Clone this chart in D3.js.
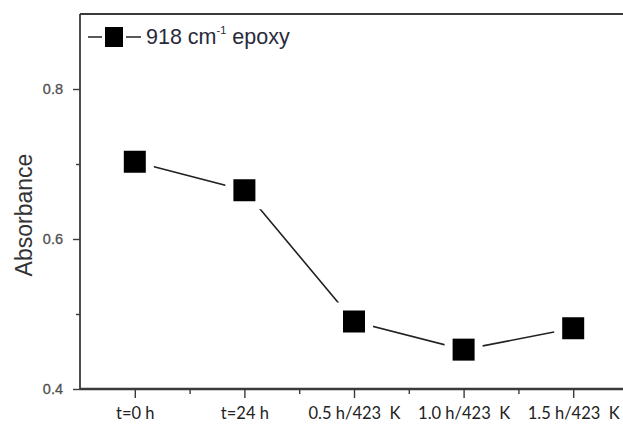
<!DOCTYPE html>
<html>
<head>
<meta charset="utf-8">
<script src="https://cdn.jsdelivr.net/npm/d3@7/dist/d3.min.js"></script>
<style>
  html, body { margin: 0; padding: 0; background: #fff; }
  svg { display: block; }
</style>
</head>
<body>
<svg id="chart" width="623" height="433"></svg>
<script>
// Sample conditions along the x axis
const categories = ["t=0 h", "t=24 h", "0.5 h/423  K", "1.0 h/423  K", "1.5 h/423  K"];
// Absorbance of the 918 cm-1 epoxy band
const absorbance = [0.703, 0.665, 0.490, 0.4525, 0.481];
// Y axis ticks
const yMajorTicks = [0.4, 0.6, 0.8];
const yMinorTicks = [0.5, 0.7];
const seriesName = "918 cm";

(function () {
const svg = d3.select("#chart");
const W = 623;
const mLeft = 80, mTop = 14, mBottom = 389;
const step = 109.6;

// index scale: plot starts half a step before the first category
const x = d3.scaleLinear().domain([-0.5, 4.5]).range([mLeft, mLeft + step * 5]);
const y = d3.scaleLinear().domain([0.4, 0.9]).range([mBottom, mTop]);

const axisColor = "#3a3a3a";

// frame: top border
svg.append("line")
  .attr("x1", mLeft).attr("x2", W).attr("y1", mTop).attr("y2", mTop)
  .attr("stroke", axisColor).attr("stroke-width", 2.2);

// y axis
const yAxis = d3.axisLeft(y).tickValues(yMajorTicks).tickSize(7).tickPadding(10)
  .tickFormat(d3.format(".1f"));
const gy = svg.append("g").attr("transform", `translate(${mLeft},0)`).call(yAxis);
gy.select(".domain").attr("stroke", axisColor).attr("stroke-width", 1.8)
  .attr("d", `M0,${mTop}V${mBottom}`);
gy.selectAll(".tick line").attr("stroke", axisColor).attr("stroke-width", 1.4);
gy.selectAll(".tick text")
  .attr("fill", "#505050").attr("font-family", "Liberation Sans, Arial, sans-serif")
  .attr("font-size", 14.5).attr("stroke", "#505050").attr("stroke-width", 0.3);
const yMinor = d3.axisLeft(y).tickValues(yMinorTicks).tickSize(4).tickFormat("");
const gym = svg.append("g").attr("transform", `translate(${mLeft},0)`).call(yMinor);
gym.select(".domain").remove();
gym.selectAll(".tick line").attr("stroke", axisColor).attr("stroke-width", 1.4);

// x axis
const xAxis = d3.axisBottom(x).tickValues(d3.range(categories.length)).tickSize(9).tickPadding(9)
  .tickFormat(i => categories[i]);
const gx = svg.append("g").attr("transform", `translate(0,${mBottom})`).call(xAxis);
gx.select(".domain").attr("stroke", axisColor).attr("stroke-width", 2.4)
  .attr("d", `M${mLeft},0H${W}`);
gx.selectAll(".tick line").attr("stroke", axisColor).attr("stroke-width", 1.4);
gx.selectAll(".tick text")
  .attr("fill", "#222").attr("font-family", "Lato, 'Open Sans', sans-serif")
  .attr("font-size", 16.5).style("white-space", "pre");
const xMinor = d3.axisBottom(x).tickValues(d3.range(categories.length - 1).map(i => i + 0.5))
  .tickSize(5).tickFormat("");
const gxm = svg.append("g").attr("transform", `translate(0,${mBottom})`).call(xMinor);
gxm.select(".domain").remove();
gxm.selectAll(".tick line").attr("stroke", axisColor).attr("stroke-width", 1.4);

// y axis title
svg.append("text")
  .attr("transform", `translate(32,${y(0.632)}) rotate(-90)`)
  .attr("text-anchor", "middle")
  .attr("font-family", "Liberation Sans, Arial, sans-serif")
  .attr("font-size", 23).attr("fill", "#333")
  .text("Absorbance");

// data line
const pts = absorbance.map((v, i) => [x(i), y(v)]);
svg.append("path")
  .attr("d", d3.line()(pts))
  .attr("fill", "none").attr("stroke", "#222").attr("stroke-width", 1.6);

const size = 22;
// white halos leave a gap between line and symbols
svg.append("g").selectAll("rect").data(absorbance).join("rect")
  .attr("x", (d, i) => x(i) - size / 2 - 8).attr("y", d => y(d) - size / 2 - 8)
  .attr("width", size + 16).attr("height", size + 16).attr("fill", "#fff");
svg.append("g").selectAll("rect").data(absorbance).join("rect")
  .attr("x", (d, i) => x(i) - size / 2).attr("y", d => y(d) - size / 2)
  .attr("width", size).attr("height", size).attr("fill", "#000");

// legend
const ly = 37, lx = 88;
svg.append("line").attr("x1", lx).attr("x2", lx + 53).attr("y1", ly).attr("y2", ly)
  .attr("stroke", "#222").attr("stroke-width", 1.6);
svg.append("rect").attr("x", lx + 26 - 12).attr("y", ly - 12).attr("width", 24).attr("height", 24)
  .attr("fill", "#fff");
svg.append("rect").attr("x", lx + 26 - 9).attr("y", ly - 10).attr("width", 18).attr("height", 20)
  .attr("fill", "#000");
const lt = svg.append("text").attr("x", lx + 58).attr("y", ly + 7)
  .attr("font-family", "Liberation Sans, Arial, sans-serif").attr("font-size", 21.5)
  .attr("fill", "#2a2a3a");
lt.append("tspan").text(seriesName);
lt.append("tspan").attr("font-size", 11).attr("dy", -10).text("-1");
lt.append("tspan").attr("dy", 10).text(" epoxy");
})();
</script>
</body>
</html>
